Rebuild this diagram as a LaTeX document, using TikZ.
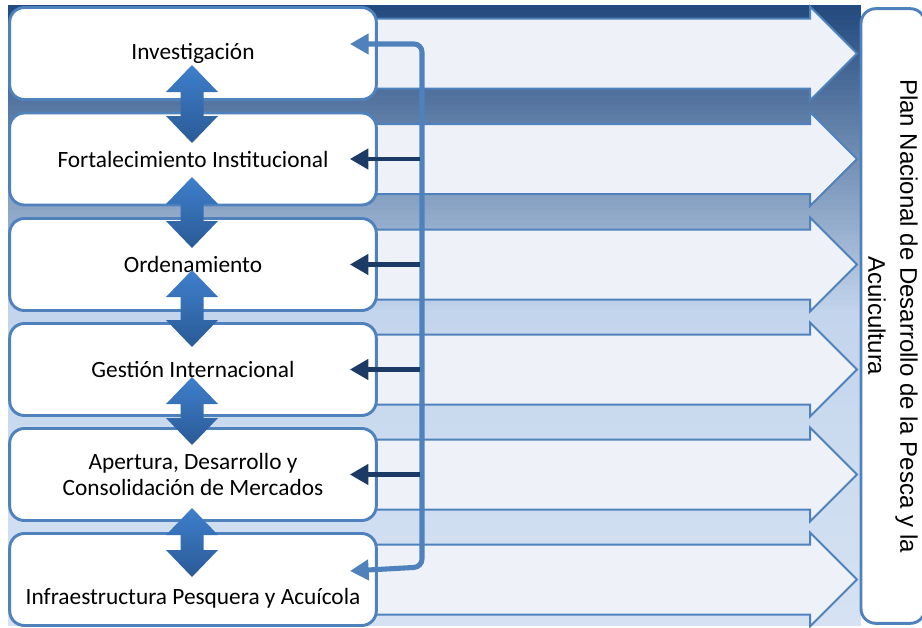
\documentclass[tikz,border=0pt]{standalone}
\usepackage{fontspec}
\newfontfamily\boxfont{Carlito}
\newfontfamily\planfont{Liberation Sans}
\usepackage{tikz}
\usetikzlibrary{arrows.meta}
\definecolor{boxblue}{HTML}{4F81BD}
\definecolor{bgtop}{HTML}{234A7E}
\definecolor{bgmid}{HTML}{C3D5EC}
\definecolor{bgbot}{HTML}{D6E2F3}
\definecolor{arrowfill}{HTML}{EEF2F8}
\definecolor{dbltop}{HTML}{3F7FCC}
\definecolor{dblbot}{HTML}{2A5A96}
\definecolor{navy}{HTML}{1B3A66}

\begin{document}
\begin{tikzpicture}[x=0.75pt, y=-0.75pt, >={Triangle[length=14pt,width=15pt]},
  box/.style={draw=boxblue, line width=2.2pt, fill=white, rounded corners=11pt, minimum width=275pt, minimum height=69pt, align=center, font=\boxfont\fontsize{17.5}{20}\selectfont},
  planbox/.style={draw=boxblue, line width=2.2pt, fill=white, rounded corners=11pt, minimum width=461pt, minimum height=48pt, align=center, font=\planfont\fontsize{18}{24}\selectfont},
  bigarrow/.style={draw=boxblue, line width=1.5pt, fill=arrowfill},
  dblarrow/.style={top color=dbltop, bottom color=dblbot},
  fbline/.style={<->, draw=boxblue, line width=3.8pt, rounded corners=6pt},
  backarrow/.style={->, draw=navy, line width=3.6pt}]
\useasboundingbox (0,0) rectangle (922,628);
% background band, drawn as thin strips
\foreach \i in {0,...,61} {
  \pgfmathsetmacro\q{\i*100/61}
  \fill[bgmid!\q!bgtop] (8,5+5*\i) rectangle (861,10.6+5*\i);
}
\foreach \i in {0,...,30} {
  \pgfmathsetmacro\q{\i*100/30}
  \fill[bgbot!\q!bgmid] (8,315+10*\i) rectangle (861,325.6+10*\i);
}
% block arrows towards the plan
\foreach \y in {53.5,159,264.5,369.5,474.5,579.5}
  \draw[bigarrow] (20,\y-35) -- (810,\y-35) -- (810,\y-47) -- (857,\y) -- (810,\y+47) -- (810,\y+35) -- (20,\y+35) -- cycle;
\node[box] (inv) at (193,53.5) {Investigación};
\node[box] (fort) at (193,159) {Fortalecimiento Institucional};
\node[box] (orden) at (193,264.5) {Ordenamiento};
\node[box] (gest) at (193,369.5) {Gestión Internacional};
\node[box] (aper) at (193,474.5) {Apertura, Desarrollo y\\Consolidación de Mercados};
\node[box, text height=41pt, text depth=3pt] (infra) at (193,579.5) {Infraestructura Pesquera y Acuícola};
\node[planbox, rotate=-90] (plan) at (893,316) {Plan Nacional de Desarrollo de la Pesca y la\\Acuicultura};
% double arrows between the boxes
\foreach \t/\b in {65/143,177/248,270/347,377/445,508/577}
  \shade[dblarrow] (192,\t) -- (218,\t+27) -- (203.5,\t+27) -- (203.5,\b-27) -- (218,\b-27) -- (192,\b) -- (166,\b-27) -- (180.5,\b-27) -- (180.5,\t+27) -- (166,\t+27) -- cycle;
% feedback line
\coordinate (fbA) at (350,44);
\coordinate (fbB) at (350,571);
\draw[fbline] (fbA) -- (422,44) -- (422,567) -- (fbB);
\foreach \n in {fort,orden,gest,aper}
  \draw[backarrow] ([xshift=31.5pt]\n.east) -- ([xshift=-21pt]\n.east);
\end{tikzpicture}
\end{document}
